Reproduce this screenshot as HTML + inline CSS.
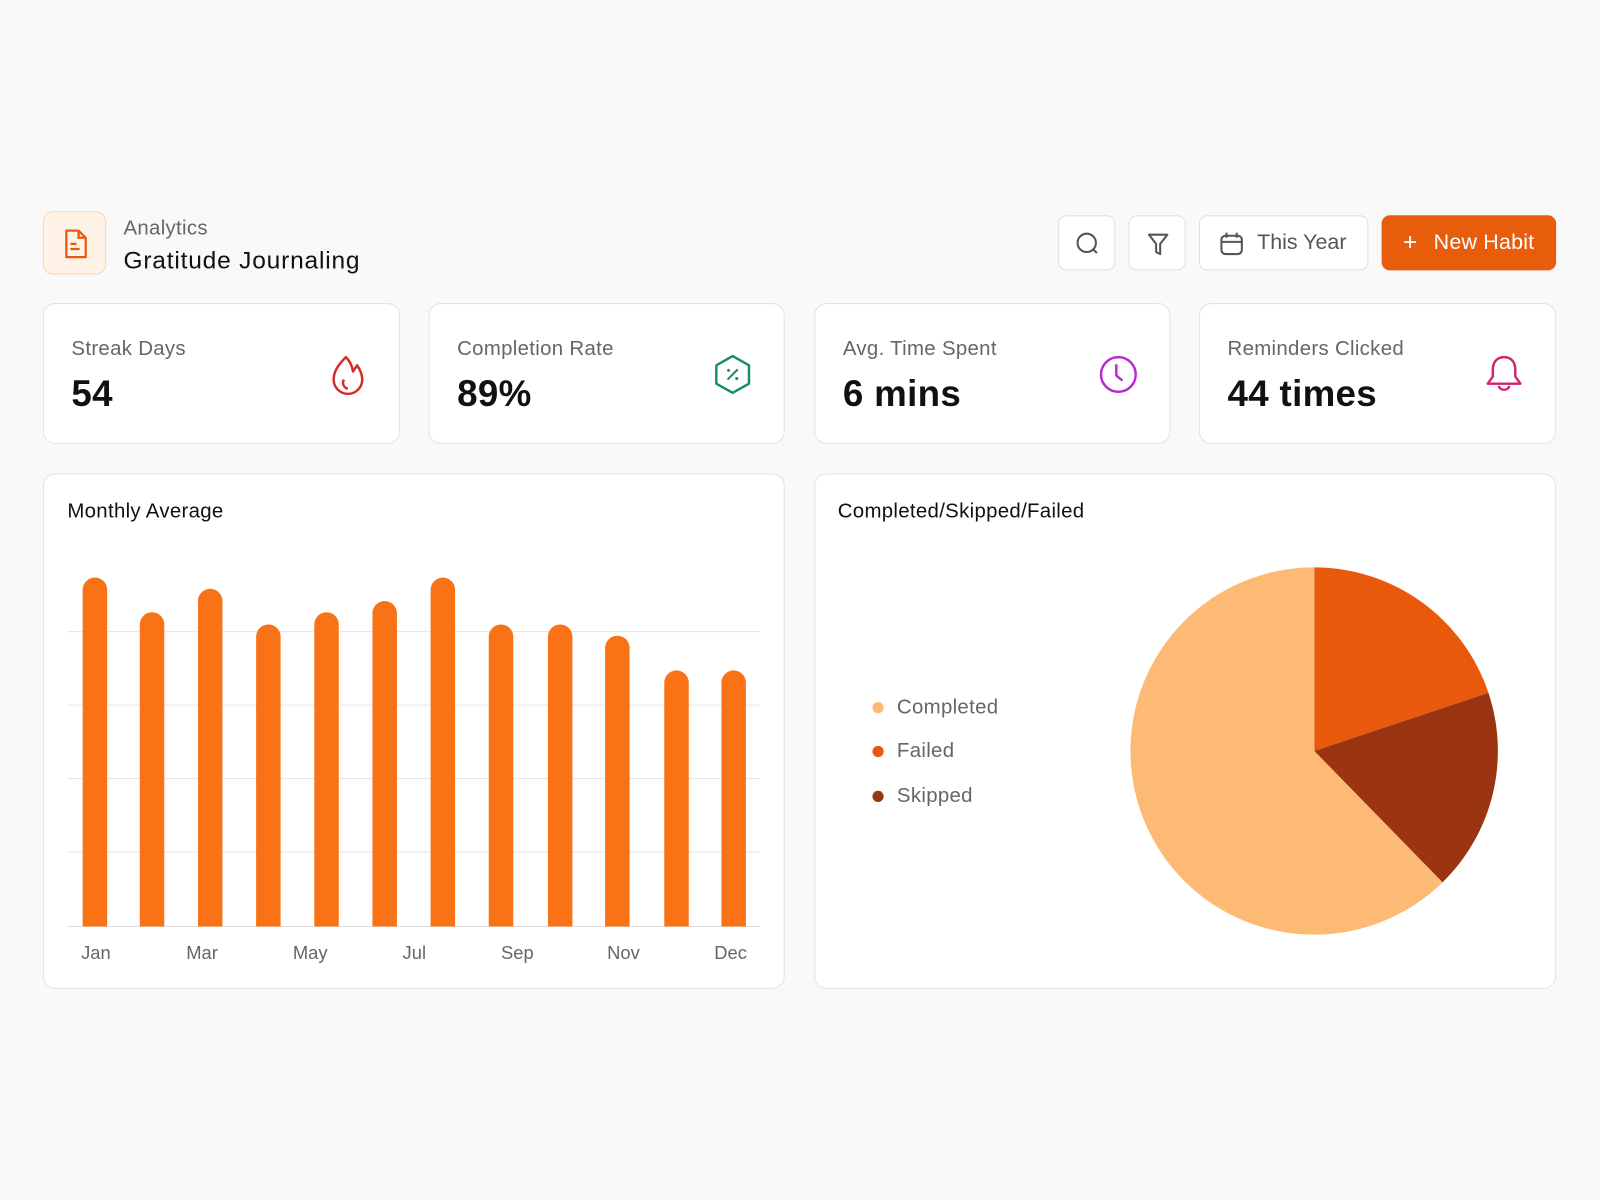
<!DOCTYPE html>
<html><head><meta charset="utf-8"><style>
*{margin:0;padding:0;box-sizing:border-box}
html,body{width:1600px;height:1200px;overflow:hidden;background:#f9f9f9;font-family:"Liberation Sans",sans-serif}
#w{position:absolute;left:0;top:0;width:1568px;height:1176px;transform:scale(1.0204);transform-origin:0 0}
.a{position:absolute}
.card{position:absolute;background:#fff;border:1px solid #e3e3e3;border-radius:12px}
.btn{position:absolute;top:211px;height:54px;background:#fff;border:1px solid #e0e0e0;border-radius:8px}
.lbl{position:absolute;left:27px;top:33px;font-size:20px;color:#666;letter-spacing:0.3px}
.val{position:absolute;left:27px;top:67px;font-size:36px;font-weight:bold;color:#111;letter-spacing:0.3px}
.ic{position:absolute;right:30px;top:48px}
.mo{position:absolute;top:924px;font-size:18px;color:#666;transform:translateX(-50%)}
.lg{position:absolute;left:879px;font-size:20px;color:#666;letter-spacing:0.3px}
.dot{position:absolute;left:855px;width:11px;height:11px;border-radius:50%}
</style></head><body><div id="w">
<div class="a" style="left:42px;top:207px;width:62px;height:62px;background:#fff3e8;border:1px solid #fcd3ad;border-radius:10px">
<svg width="62" height="62" viewBox="0 0 62 62"><path d="M22 18h12l7 7v19h-19z" fill="none" stroke="#e8590c" stroke-width="2.2" stroke-linejoin="round"/><path d="M34 18v7h7M26 31h6M26 36h9" stroke="#e8590c" stroke-width="2.2" fill="none"/></svg></div>
<div class="a" style="left:121px;top:213px;font-size:20px;color:#666;letter-spacing:0.3px">Analytics</div>
<div class="a" style="left:121px;top:242px;font-size:24px;color:#111;letter-spacing:0.8px">Gratitude Journaling</div>
<div class="btn" style="left:1037px;width:56px"><svg width="56" height="54"><circle cx="27" cy="26" r="9" fill="none" stroke="#555" stroke-width="2"/><path d="M33 32l4 4" stroke="#555" stroke-width="2"/></svg></div>
<div class="btn" style="left:1106px;width:56px"><svg width="56" height="54"><path d="M19 18h18l-7 9v10l-4-2v-8z" fill="none" stroke="#555" stroke-width="2" stroke-linejoin="round"/></svg></div>
<div class="btn" style="left:1175px;width:166px"><svg class="a" style="left:18px;top:14px" width="26" height="26"><rect x="3" y="5" width="20" height="18" rx="4" fill="none" stroke="#555" stroke-width="2"/><path d="M3 11h20M8 2v5M18 2v5" stroke="#555" stroke-width="2"/></svg><span class="a" style="left:56px;top:14px;font-size:21px;color:#555">This Year</span></div>
<div class="btn" style="left:1354px;width:171px;background:#e85d0c;border-color:#e85d0c"><span class="a" style="left:20px;top:12px;font-size:24px;color:#fff">+</span><span class="a" style="left:50px;top:14px;font-size:21px;color:#fff;letter-spacing:0.2px">New Habit</span></div>

<div class="card" style="left:42px;top:297px;width:350px;height:138px"><div class="lbl">Streak Days</div><div class="val">54</div>
<svg class="ic" width="40" height="42" viewBox="0 0 40 42"><path d="M18 4c-8 8-12 14-12 22a14 14 0 0 0 28 0c0-6-3-11-5-14l-4 6c-1-6-3-10-7-14z" fill="none" stroke="#d42a2a" stroke-width="2.4" stroke-linejoin="round"/><path d="M16 26c-2 4 0 8 4 9" fill="none" stroke="#d42a2a" stroke-width="2.4"/></svg></div>
<div class="card" style="left:420px;top:297px;width:349px;height:138px"><div class="lbl">Completion Rate</div><div class="val">89%</div>
<svg class="ic" width="40" height="42" viewBox="0 0 40 42"><path d="M20 3l16 9v18l-16 9-16-9v-18z" fill="none" stroke="#149060" stroke-width="2.4" stroke-linejoin="round"/><path d="M15 26l10-10" stroke="#149060" stroke-width="2"/><circle cx="16" cy="17" r="1.5" fill="#149060"/><circle cx="24" cy="25" r="1.5" fill="#149060"/></svg></div>
<div class="card" style="left:798px;top:297px;width:349px;height:138px"><div class="lbl">Avg. Time Spent</div><div class="val">6 mins</div>
<svg class="ic" width="40" height="42" viewBox="0 0 40 42"><circle cx="20" cy="21" r="17" fill="none" stroke="#b62ad0" stroke-width="2.4"/><path d="M18 11v11l6 5" fill="none" stroke="#b62ad0" stroke-width="2.4"/></svg></div>
<div class="card" style="left:1175px;top:297px;width:350px;height:138px"><div class="lbl">Reminders Clicked</div><div class="val">44 times</div>
<svg class="ic" width="40" height="42" viewBox="0 0 40 42"><path d="M20 4c-7 0-11 5-11 12v7l-5 7h32l-5-7v-7c0-7-4-12-11-12z" fill="none" stroke="#d0266e" stroke-width="2.4" stroke-linejoin="round"/><path d="M15 32a5 4 0 0 0 10 0" fill="none" stroke="#d0266e" stroke-width="2.4"/></svg></div>

<div class="card" style="left:42px;top:464px;width:727px;height:505px"></div>
<div class="a" style="left:66px;top:490px;font-size:20px;color:#111;letter-spacing:0.3px">Monthly Average</div>
<svg class="a" style="left:0;top:0" width="1568" height="1176">
<g stroke="#e6e6e6" stroke-width="1"><line x1="66" x2="745" y1="619" y2="619"/><line x1="66" x2="745" y1="691" y2="691"/><line x1="66" x2="745" y1="763" y2="763"/><line x1="66" x2="745" y1="835" y2="835"/><line x1="66" x2="745" y1="908" y2="908" stroke="#ddd"/></g>
<g fill="#f97316">
<path d="M81 908V578a12 12 0 0 1 24 0V908z"/>
<path d="M137 908V612a12 12 0 0 1 24 0V908z"/>
<path d="M194 908V589a12 12 0 0 1 24 0V908z"/>
<path d="M251 908V624a12 12 0 0 1 24 0V908z"/>
<path d="M308 908V612a12 12 0 0 1 24 0V908z"/>
<path d="M365 908V601a12 12 0 0 1 24 0V908z"/>
<path d="M422 908V578a12 12 0 0 1 24 0V908z"/>
<path d="M479 908V624a12 12 0 0 1 24 0V908z"/>
<path d="M537 908V624a12 12 0 0 1 24 0V908z"/>
<path d="M593 908V635a12 12 0 0 1 24 0V908z"/>
<path d="M651 908V669a12 12 0 0 1 24 0V908z"/>
<path d="M707 908V669a12 12 0 0 1 24 0V908z"/>
</g>
</svg>
<div class="mo" style="left:94px">Jan</div><div class="mo" style="left:198px">Mar</div><div class="mo" style="left:304px">May</div><div class="mo" style="left:406px">Jul</div><div class="mo" style="left:507px">Sep</div><div class="mo" style="left:611px">Nov</div><div class="mo" style="left:716px">Dec</div>

<div class="card" style="left:798px;top:464px;width:727px;height:505px"></div>
<div class="a" style="left:821px;top:490px;font-size:20px;color:#111;letter-spacing:0.3px">Completed/Skipped/Failed</div>
<div class="dot" style="top:688px;background:#fdba74"></div><div class="lg" style="top:682px">Completed</div>
<div class="dot" style="top:731px;background:#e8590c"></div><div class="lg" style="top:725px">Failed</div>
<div class="dot" style="top:775px;background:#9a3412"></div><div class="lg" style="top:769px">Skipped</div>
<svg class="a" style="left:0;top:0" width="1568" height="1176">
<path d="M1288 736L1288 556A180 180 0 0 1 1458.7 679Z" fill="#e8590c"/>
<path d="M1288 736L1458.7 679A180 180 0 0 1 1413.7 864.7Z" fill="#9a3412"/>
<path d="M1288 736L1413.7 864.7A180 180 0 1 1 1288 556Z" fill="#fdba74"/>
</svg>
</div></body></html>
